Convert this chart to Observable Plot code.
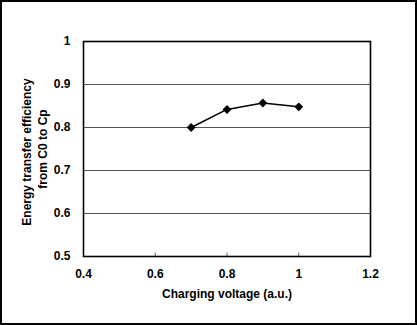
<!DOCTYPE html>
<html>
<head>
<meta charset="utf-8">
<script src="https://cdn.jsdelivr.net/npm/d3@7"></script>
<script src="https://cdn.jsdelivr.net/npm/@observablehq/plot@0.6"></script>
<style>
  html, body { margin: 0; padding: 0; background: #fff; }
  #chart svg { display: block; outline: 2px solid #000; outline-offset: -2px; }
</style>
</head>
<body>
<div id="chart"></div>
<script>
const voltage = [0.7, 0.8, 0.9, 1.0];
const efficiency = [0.800, 0.842, 0.857, 0.848];
const xTicks = [0.4, 0.6, 0.8, 1, 1.2];
const yTicks = [0.5, 0.6, 0.7, 0.8, 0.9, 1];
const gridY = [0.6, 0.7, 0.8, 0.9];
const xTitle = "Charging voltage (a.u.)";
const yTitle1 = "Energy transfer efficiency";
const yTitle2 = "from C0 to Cp";

const data = voltage.map((v, i) => ({v, e: efficiency[i]}));
const font = "'Liberation Sans', Arial, sans-serif";

const chart = Plot.plot({
  width: 417,
  height: 325,
  marginLeft: 83,
  marginRight: 47,
  marginTop: 41,
  marginBottom: 69,
  style: {fontFamily: font, fontSize: "12px", fontWeight: "bold", color: "#000", background: "#fff"},
  x: {domain: [0.4, 1.2]},
  y: {domain: [0.5, 1]},
  marks: [
    Plot.ruleY(gridY, {stroke: "#555", strokeWidth: 1}),
    Plot.ruleX(xTicks.slice(1, -1), {y1: 0.5, y2: 0.508, stroke: "#666", strokeWidth: 1}),
    Plot.frame({stroke: "#000", strokeWidth: 1.6}),
    Plot.axisX({ticks: xTicks, tickSize: 0, tickPadding: 13, tickFormat: d => String(d), label: null, fontSize: 12, fontWeight: "bold"}),
    Plot.axisY({ticks: yTicks, tickSize: 0, tickPadding: 13, tickFormat: d => String(d), label: null, fontSize: 12, fontWeight: "bold"}),
    Plot.text([xTitle], {frameAnchor: "bottom", dy: 38, fontSize: 12, fontWeight: "bold", lineAnchor: "middle", letterSpacing: "0.2px"}),
    Plot.text([yTitle1], {frameAnchor: "left", textAnchor: "middle", dx: -56, dy: 3, rotate: -90, fontSize: 12, fontWeight: "bold", lineAnchor: "middle", letterSpacing: "0.3px"}),
    Plot.text([yTitle2], {frameAnchor: "left", textAnchor: "middle", dx: -40, dy: 0, rotate: -90, fontSize: 12, fontWeight: "bold", lineAnchor: "middle", letterSpacing: "0.3px"}),
    Plot.line(data, {x: "v", y: "e", stroke: "#000", strokeWidth: 1.5}),
    Plot.dot(data, {x: "v", y: "e", symbol: "diamond2", r: 4, fill: "#000", stroke: "none"})
  ]
});
document.getElementById("chart").append(chart);
</script>
</body>
</html>
